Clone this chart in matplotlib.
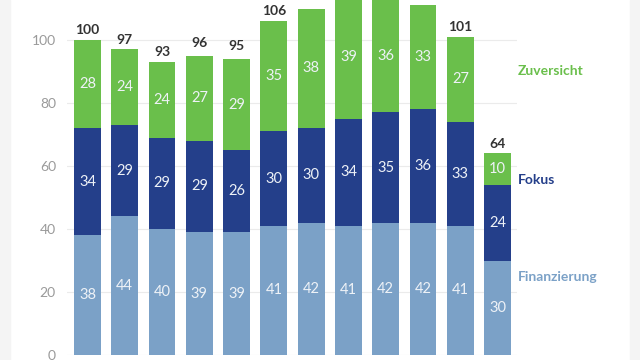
import numpy as np
import matplotlib.pyplot as plt
from matplotlib.patches import Rectangle

plt.rcParams["font.family"] = ["Lato", "DejaVu Sans"]

finanzierung = [38, 44, 40, 39, 39, 41, 42, 41, 42, 42, 41, 30]
fokus = [34, 29, 29, 29, 26, 30, 30, 34, 35, 36, 33, 24]
zuversicht = [28, 24, 24, 27, 29, 35, 38, 39, 36, 33, 27, 10]
totals = [100, 97, 93, 96, 95, 106, 110, 114, 113, 111, 101, 64]

series = [
    ("Finanzierung", finanzierung, "#7ba1c7", 24.8),
    ("Fokus", fokus, "#243f8a", 55.6),
    ("Zuversicht", zuversicht, "#6abf4b", 90.2),
]

YMAX = 112.7

fig = plt.figure(figsize=(6.4, 3.6), dpi=100)
# light gray strips at the image edges
fig.patches.append(Rectangle((0, 0), 10 / 640, 1, transform=fig.transFigure,
                             color="#f4f4f4", zorder=0))
fig.patches.append(Rectangle((630 / 640, 0), 10 / 640, 1, transform=fig.transFigure,
                             color="#f4f4f4", zorder=0))

ax = fig.add_axes([67 / 640, 5 / 360, 450 / 640, 355 / 360])
x = np.arange(len(totals))
bottom = np.zeros(len(totals))
for name, vals, color, label_y in series:
    vals = np.array(vals)
    ax.bar(x, vals, width=0.72, bottom=bottom, color=color, zorder=2)
    for xi, b, v in zip(x, bottom, vals):
        ax.text(xi, b + v / 2, str(v), ha="center", va="center",
                color="#eef2f7", fontsize=10.5, zorder=3)
    ax.text(11.54, label_y, name, ha="left", va="center", color=color,
            fontsize=10, fontweight="bold", clip_on=False)
    bottom = bottom + vals

# totals above the bars; the ones running past the top of the crop are not shown
for xi, t in zip(x, totals):
    if t + 5.5 > YMAX:
        continue
    ax.text(xi, t + 1.2, str(t), ha="center", va="bottom", color="#333333",
            fontsize=10, fontweight="bold")

ax.set_xlim(-0.55, 11.52)
ax.set_ylim(0, YMAX)
ax.set_yticks([0, 20, 40, 60, 80, 100])
ax.set_xticks([])
ax.tick_params(axis="y", length=0, pad=8, labelsize=10, labelcolor="#9a9a9a")
ax.grid(axis="y", color="#ebebeb", linewidth=0.8, zorder=0)
for s in ax.spines.values():
    s.set_visible(False)

fig.savefig("out.png", dpi=100)
